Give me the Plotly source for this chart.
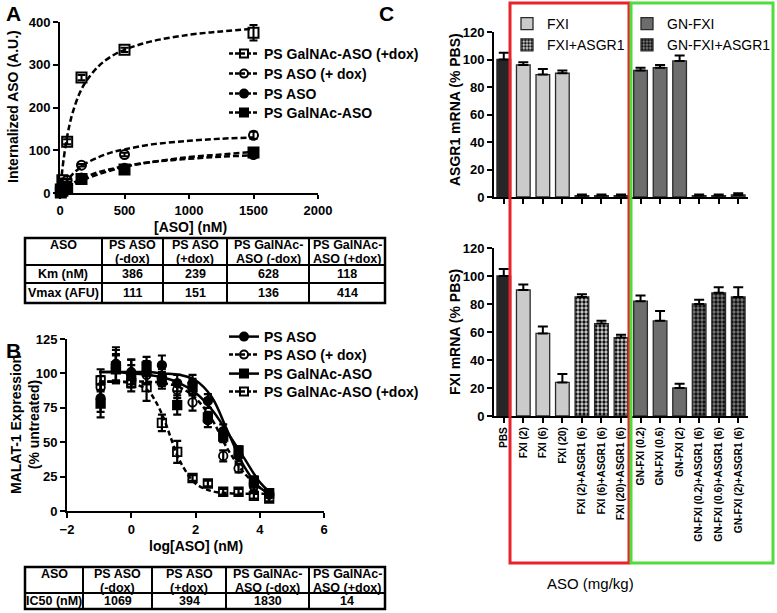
import plotly.graph_objects as go

W, H = 777, 613
FONT = "Liberation Sans, Arial, sans-serif"

# ---------------- Panel A data ----------------
a_conc = [6.2, 18.5, 55.6, 166.7, 500, 1500]
a_galnac_dox = [8, 30, 120, 270, 335, 375]
a_galnac_dox_err = [3, 4, 6, 6, 5, 18]
a_aso_dox = [3, 12, 30, 65, 90, 135]
a_aso_dox_err = [2, 2, 3, 3, 4, 8]
a_aso = [2, 8, 15, 35, 58, 90]
a_aso_err = [1, 2, 2, 3, 3, 5]
a_galnac = [1, 5, 10, 33, 55, 95]
a_galnac_err = [1, 2, 2, 3, 3, 5]

a_fit_x = [0, 10, 25, 50, 75, 100, 150, 200, 300, 400, 500, 700, 1000, 1250, 1500]
a_fit_galnac_dox = [0, 32, 72, 123, 161, 190, 232, 260, 297, 320, 335, 354, 370, 378, 384]
a_fit_aso_dox = [0, 6, 14, 26, 36, 45, 58, 69, 84, 95, 102, 113, 122, 127, 130]
a_fit_aso = [0, 3, 7, 13, 18, 23, 31, 38, 49, 56, 63, 72, 80, 85, 88]
a_fit_galnac = [0, 2, 5, 10, 14, 19, 26, 33, 44, 53, 61, 72, 84, 90, 96]

table_cols = [["ASO"], ["PS ASO", "(-dox)"], ["PS ASO", "(+dox)"], ["PS GalNAc-", "ASO (-dox)"], ["PS GalNAc-", "ASO (+dox)"]]
table_a_km = ["Km (nM)", "386", "239", "628", "118"]
table_a_vmax = ["Vmax (AFU)", "111", "151", "136", "414"]
table_b_ic50 = ["IC50 (nM)", "1069", "394", "1830", "14"]

# ---------------- Panel B data ----------------
b_logx = [-0.954, -0.477, 0, 0.477, 0.954, 1.431, 1.908, 2.385, 2.863, 3.34, 3.817, 4.294]
b_aso = [82, 107, 100, 101, 106, 93, 93, 80, 58, 40, 20, 13]
b_aso_err = [10, 12, 10, 8, 7, 6, 6, 5, 5, 4, 3, 2]
b_aso_dox = [90, 104, 101, 99, 97, 88, 79, 66, 40, 31, 18, 12]
b_aso_dox_err = [8, 10, 9, 7, 6, 6, 6, 5, 4, 3, 3, 2]
b_galnac = [78, 103, 98, 105, 95, 77, 90, 68, 54, 44, 22, 13]
b_galnac_err = [10, 10, 8, 7, 6, 7, 6, 4, 4, 3, 3, 2]
b_galnac_dox = [95, 105, 93, 90, 64, 43, 24, 20, 14, 14, 11, 9]
b_galnac_dox_err = [8, 12, 6, 10, 6, 8, 2, 2, 2, 2, 2, 2]

b_fit_x = [-1, -0.5, 0, 0.5, 1, 1.5, 2, 2.5, 3, 3.5, 4, 4.3]
b_fit_aso = [101, 101, 101, 101, 100, 99, 95, 83, 58, 33, 17, 13]
b_fit_galnac = [101, 101, 100, 99, 97, 93, 86, 74, 57, 39, 21, 14]
b_fit_aso_dox = [94, 94, 94, 94, 93, 90, 82, 67, 45, 28, 17, 13]
b_fit_gd_x = [-1, -0.5, 0, 0.5, 0.75, 1, 1.25, 1.5, 2, 2.5, 3, 3.5, 4, 4.3]
b_fit_galnac_dox = [94, 94, 93, 88, 80, 68, 52, 37, 20, 14.5, 13, 12.5, 12.5, 12.5]

# ---------------- Panel C data ----------------
c_categories = ["PBS", "FXI (2)", "FXI (6)", "FXI (20)", "FXI (2)+ASGR1 (6)", "FXI (6)+ASGR1 (6)",
                "FXI (20)+ASGR1 (6)", "GN-FXI (0.2)", "GN-FXI (0.6)", "GN-FXI (2)",
                "GN-FXI (0.2)+ASGR1 (6)", "GN-FXI (0.6)+ASGR1 (6)", "GN-FXI (2)+ASGR1 (6)"]
c_groups = ["PBS", "FXI", "FXI", "FXI", "FXI+ASGR1", "FXI+ASGR1", "FXI+ASGR1",
            "GN-FXI", "GN-FXI", "GN-FXI", "GN-FXI+ASGR1", "GN-FXI+ASGR1", "GN-FXI+ASGR1"]
c_asgr1 = [100, 96, 89, 90, 1, 1, 1, 92, 94, 99, 1, 1, 1.5]
c_asgr1_err = [5, 2, 4, 2, 0.8, 0.8, 0.8, 2, 2, 4, 0.8, 0.8, 1.2]
c_fxi = [100, 90, 59, 24, 85, 66, 56, 82, 68, 20, 80, 88, 85]
c_fxi_err = [5, 4, 5, 6, 2, 2, 2, 4, 7, 3, 3, 4, 7]

def px(x):
    return x / W

def py(y):
    return 1 - y / H

fig = go.Figure()
legend_layout = {}
LEG_OFF = 15

def item_legend(key, row_y, bold=True):
    legend_layout[key] = dict(x=px(224), y=py(row_y - LEG_OFF), xanchor="left", yanchor="top",
                              bgcolor="rgba(0,0,0,0)",
                              font=dict(family=FONT, size=14, color="black", weight="bold" if bold else "normal"))

# ---------- Panel A ----------
a_series = [
    ("PS GalNAc-ASO (+dox)", a_galnac_dox, a_galnac_dox_err, a_fit_galnac_dox, "square-open"),
    ("PS ASO (+ dox)", a_aso_dox, a_aso_dox_err, a_fit_aso_dox, "circle-open"),
    ("PS ASO", a_aso, a_aso_err, a_fit_aso, "circle"),
    ("PS GalNAc-ASO", a_galnac, a_galnac_err, a_fit_galnac, "square"),
]
a_leg_rows = [53, 73, 93, 112]
for name, vals, errs, fit, sym in a_series:
    fig.add_trace(go.Scatter(x=a_fit_x, y=fit, mode="lines", line=dict(color="black", width=2.5, dash="6px,3px", shape="spline"),
                             xaxis="x", yaxis="y", showlegend=False, cliponaxis=False, hoverinfo="skip"))
for name, vals, errs, fit, sym in a_series:
    fig.add_trace(go.Scatter(x=a_conc, y=vals, mode="markers",
                             marker=dict(symbol=sym, size=10 if "square" in sym else 9, color="black", line=dict(color="black", width=2)),
                             error_y=dict(type="data", array=errs, color="black", thickness=2, width=4),
                             xaxis="x", yaxis="y", showlegend=False, cliponaxis=False))
for k, (name, vals, errs, fit, sym) in enumerate(a_series):
    key = "legend%d" % (3 + k)
    item_legend(key, a_leg_rows[k])
    fig.add_trace(go.Scatter(x=[None], y=[None], mode="lines+markers", name=name,
                             marker=dict(symbol=sym, size=8, color="black", line=dict(color="black", width=2)),
                             line=dict(color="black", width=2.5, dash="4px,2px"),
                             xaxis="x", yaxis="y", legend=key))

# ---------- Panel B ----------
b_series = [
    ("PS ASO", b_aso, b_aso_err, b_fit_x, b_fit_aso, "circle", "solid"),
    ("PS ASO (+ dox)", b_aso_dox, b_aso_dox_err, b_fit_x, b_fit_aso_dox, "circle-open", "5px,3px"),
    ("PS GalNAc-ASO", b_galnac, b_galnac_err, b_fit_x, b_fit_galnac, "square", "solid"),
    ("PS GalNAc-ASO (+dox)", b_galnac_dox, b_galnac_dox_err, b_fit_gd_x, b_fit_galnac_dox, "square-open", "5px,3px"),
]
b_leg_rows = [336, 354, 373, 391]
for name, vals, errs, fx, fy, sym, dash in b_series:
    fig.add_trace(go.Scatter(x=fx, y=fy, mode="lines", line=dict(color="black", width=2.5, dash=dash, shape="spline"),
                             xaxis="x2", yaxis="y2", showlegend=False, cliponaxis=False, hoverinfo="skip"))
for name, vals, errs, fx, fy, sym, dash in b_series:
    fig.add_trace(go.Scatter(x=b_logx, y=vals, mode="markers",
                             marker=dict(symbol=sym, size=8.5, color="black", line=dict(color="black", width=1.8)),
                             error_y=dict(type="data", array=errs, color="black", thickness=2.2, width=4),
                             xaxis="x2", yaxis="y2", showlegend=False, cliponaxis=False))
for k, (name, vals, errs, fx, fy, sym, dash) in enumerate(b_series):
    key = "legend%d" % (7 + k)
    item_legend(key, b_leg_rows[k])
    fig.add_trace(go.Scatter(x=[None], y=[None], mode="lines+markers", name=name,
                             marker=dict(symbol=sym, size=8, color="black", line=dict(color="black", width=2)),
                             line=dict(color="black", width=2.5, dash="solid" if dash == "solid" else "4px,2px"),
                             xaxis="x2", yaxis="y2", legend=key))

# ---------- Panel C ----------
group_style = {
    "PBS": dict(color="#262626", pattern=None, legend=None),
    "FXI": dict(color="#cbcbcb", pattern=None, legend="legend"),
    "FXI+ASGR1": dict(color="#cbcbcb", pattern=dict(shape=".", fgcolor="#111111", bgcolor="#d4d4d4", size=4, solidity=0.55, fillmode="replace"), legend="legend"),
    "GN-FXI": dict(color="#6d6d6d", pattern=None, legend="legend2"),
    "GN-FXI+ASGR1": dict(color="#6d6d6d", pattern=dict(shape=".", fgcolor="#111111", bgcolor="#7a7a7a", size=4, solidity=0.55, fillmode="replace"), legend="legend2"),
}
group_order = ["PBS", "FXI", "FXI+ASGR1", "GN-FXI", "GN-FXI+ASGR1"]
for panel, vals, errs, xa, ya in [("top", c_asgr1, c_asgr1_err, "x3", "y3"), ("bot", c_fxi, c_fxi_err, "x4", "y4")]:
    for g in group_order:
        idx = [i for i, gg in enumerate(c_groups) if gg == g]
        st = group_style[g]
        marker = dict(color=st["color"], line=dict(color="#2a2a2a", width=1.3))
        if st["pattern"]:
            marker["pattern"] = st["pattern"]
        if st["legend"] and panel == "top":
            kw = dict(showlegend=True, legend=st["legend"], name=g)
        else:
            kw = dict(showlegend=False, name=g)
        fig.add_trace(go.Bar(x=[c_categories[i] for i in idx], y=[vals[i] for i in idx],
                             width=0.7, marker=marker,
                             error_y=dict(type="data", symmetric=False, array=[errs[i] for i in idx],
                                          arrayminus=[0] * len(idx), color="black", thickness=2, width=5),
                             xaxis=xa, yaxis=ya, **kw))

axis_common = dict(showline=True, linecolor="black", linewidth=2, ticks="outside", ticklen=5, tickwidth=2,
                   tickcolor="black", showgrid=False, zeroline=False, automargin=False,
                   tickfont=dict(family=FONT, size=13, color="black", weight="bold"))

fig.update_layout(
    width=W, height=H, margin=dict(l=0, r=0, t=0, b=0, autoexpand=False),
    paper_bgcolor="white", plot_bgcolor="rgba(0,0,0,0)",
    font=dict(family=FONT, color="black"),
    barmode="overlay",
    xaxis=dict(domain=[px(60), px(318)], range=[0, 2000], tickvals=[0, 500, 1000, 1500, 2000], anchor="y",
               **{**axis_common, "ticklen": 4}),
    yaxis=dict(domain=[py(193), py(22)], range=[0, 400], tickvals=[0, 100, 200, 300, 400], anchor="x", **axis_common),
    xaxis2=dict(domain=[px(67), px(324)], range=[-2, 6], tickvals=[-2, 0, 2, 4, 6], anchor="y2", **axis_common),
    yaxis2=dict(domain=[py(511), py(339)], range=[0, 125], tickvals=[0, 25, 50, 75, 100, 125], anchor="x2", **axis_common),
    xaxis3=dict(domain=[px(494), px(748)], range=[-0.5, 12.5], type="category", categoryorder="array",
                categoryarray=c_categories, showticklabels=False, anchor="y3", **axis_common),
    yaxis3=dict(domain=[py(197), py(32)], range=[0, 120], tickvals=[0, 20, 40, 60, 80, 100, 120], anchor="x3", **axis_common),
    xaxis4=dict(domain=[px(494), px(748)], range=[-0.5, 12.5], type="category", categoryorder="array",
                categoryarray=c_categories, tickangle=-90, anchor="y4",
                **{**axis_common, "tickfont": dict(family=FONT, size=10.2, color="black", weight="bold")}),
    yaxis4=dict(domain=[py(416), py(248)], range=[0, 120], tickvals=[0, 20, 40, 60, 80, 100, 120], anchor="x4", **axis_common),
    legend=dict(x=px(507), y=py(8), xanchor="left", yanchor="top", bgcolor="rgba(0,0,0,0)",
                font=dict(family=FONT, size=14, color="black"), traceorder="normal"),
    legend2=dict(x=px(627), y=py(8), xanchor="left", yanchor="top", bgcolor="rgba(0,0,0,0)",
                 font=dict(family=FONT, size=14, color="black"), traceorder="normal"),
    **legend_layout,
)

annotations = []
shapes = []

def text(x, y, s, size=14, bold=True, angle=0, xanchor="center", yanchor="middle"):
    annotations.append(dict(x=px(x), y=py(y), xref="paper", yref="paper", text=s, showarrow=False,
                            textangle=angle, xanchor=xanchor, yanchor=yanchor,
                            font=dict(family=FONT, size=size, color="black", weight="bold" if bold else "normal")))

# panel labels
text(4, 13, "A", size=21, xanchor="left")
text(4, 350, "B", size=21, xanchor="left")
text(377, 13, "C", size=21, xanchor="left")

# axis titles
text(190, 227, "[ASO] (nM)", size=14)
text(13, 107, "Internalized ASO (A.U.)", size=14, angle=-90)
text(25, 425, "MALAT-1 Expression<br>(% untreated)", size=14, angle=-90)
text(196, 546, "log[ASO] (nM)", size=14)
text(455, 110, "ASGR1 mRNA (% PBS)", size=14, angle=-90)
text(455, 332, "FXI mRNA (% PBS)", size=14, angle=-90)
text(590, 583, "ASO (mg/kg)", size=15, bold=False)

# tables
def table(xs, ys, header, rows):
    shapes.append(dict(type="rect", xref="paper", yref="paper", x0=px(xs[0]), x1=px(xs[-1]), y0=py(ys[0]), y1=py(ys[-1]),
                       line=dict(color="black", width=2.5)))
    for xv in xs[1:-1]:
        shapes.append(dict(type="line", xref="paper", yref="paper", x0=px(xv), x1=px(xv), y0=py(ys[0]), y1=py(ys[-1]),
                           line=dict(color="black", width=2)))
    for yv in ys[1:-1]:
        shapes.append(dict(type="line", xref="paper", yref="paper", x0=px(xs[0]), x1=px(xs[-1]), y0=py(yv), y1=py(yv),
                           line=dict(color="black", width=2)))
    for j, lines in enumerate(header):
        for k, ln in enumerate(lines):
            text((xs[j] + xs[j + 1]) / 2, ys[0] + 7 + 13.5 * k, ln, size=12.5)
    for r, row in enumerate(rows):
        for j, c in enumerate(row):
            text((xs[j] + xs[j + 1]) / 2, (ys[r + 1] + ys[r + 2]) / 2, c, size=12.5)

table([25, 102, 163, 227, 309, 385], [238, 265, 283, 303], table_cols, [table_a_km, table_a_vmax])
table([25, 83, 152, 226, 309, 385], [567, 593, 609], table_cols, [table_b_ic50])

# red and green group boxes
shapes.append(dict(type="rect", xref="paper", yref="paper", x0=px(510), x1=px(629), y0=py(563), y1=py(3),
                   line=dict(color="#e8232b", width=3)))
shapes.append(dict(type="rect", xref="paper", yref="paper", x0=px(631), x1=px(773), y0=py(563), y1=py(3),
                   line=dict(color="#4fdc3c", width=3)))

fig.update_layout(annotations=annotations, shapes=shapes)
fig.write_html("out.html", config={"displayModeBar": False},
               post_script="document.body.style.margin='0';document.body.style.padding='0';")
